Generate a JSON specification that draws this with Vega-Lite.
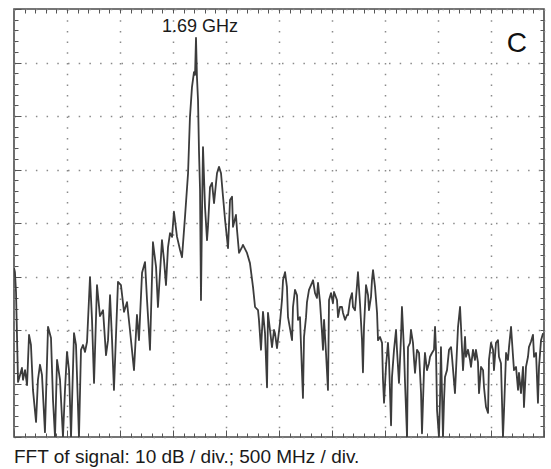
{
  "$schema": "https://vega.github.io/schema/vega-lite/v6.json",
  "width": 530,
  "height": 428,
  "autosize": {"type": "none"},
  "padding": {"left": 14, "top": 9, "right": 7, "bottom": 32},
  "background": "white",
  "config": {
    "view": {"stroke": "#4a4a4a", "strokeWidth": 1.6},
    "font": "Liberation Sans"
  },
  "title": {
    "text": "FFT of signal: 10 dB / div.; 500 MHz / div.",
    "orient": "bottom",
    "anchor": "start",
    "frame": "group",
    "offset": 10,
    "fontSize": 19,
    "fontWeight": "normal",
    "font": "Liberation Sans",
    "color": "#1a1a1a"
  },
  "datasets": {
    "spectrum": [
      {"f": 0, "db": -48.4}, {"f": 9, "db": -49.2}, {"f": 19, "db": -52.9}, {"f": 38, "db": -69.7},
      {"f": 57, "db": -68.4}, {"f": 75, "db": -67.1}, {"f": 85, "db": -69.3}, {"f": 104, "db": -67.5},
      {"f": 123, "db": -70.3}, {"f": 142, "db": -60.9}, {"f": 160, "db": -62.8}, {"f": 179, "db": -71.2},
      {"f": 208, "db": -77.2}, {"f": 226, "db": -69.3}, {"f": 245, "db": -66.5}, {"f": 264, "db": -68.4},
      {"f": 292, "db": -79.1}, {"f": 321, "db": -59.4}, {"f": 349, "db": -61.5}, {"f": 368, "db": -73.1},
      {"f": 387, "db": -80}, {"f": 406, "db": -65.6}, {"f": 434, "db": -69.3}, {"f": 462, "db": -80},
      {"f": 481, "db": -71.2}, {"f": 500, "db": -64.1}, {"f": 519, "db": -67.5}, {"f": 538, "db": -80},
      {"f": 566, "db": -60.6}, {"f": 585, "db": -62.8}, {"f": 613, "db": -80}, {"f": 632, "db": -63.7},
      {"f": 651, "db": -62.8}, {"f": 670, "db": -64.1}, {"f": 689, "db": -62.2}, {"f": 717, "db": -50.1},
      {"f": 736, "db": -58.1}, {"f": 755, "db": -69.9}, {"f": 783, "db": -51.6}, {"f": 811, "db": -57.4},
      {"f": 840, "db": -56.3}, {"f": 868, "db": -64.7}, {"f": 887, "db": -61.9}, {"f": 906, "db": -53.5},
      {"f": 925, "db": -61.9}, {"f": 943, "db": -71.2}, {"f": 981, "db": -51.0}, {"f": 1009, "db": -51.6},
      {"f": 1038, "db": -56.6}, {"f": 1066, "db": -54.8}, {"f": 1094, "db": -60.0}, {"f": 1132, "db": -67.5},
      {"f": 1160, "db": -57.2}, {"f": 1179, "db": -61.9}, {"f": 1208, "db": -49.3}, {"f": 1236, "db": -47.3},
      {"f": 1255, "db": -54.4}, {"f": 1283, "db": -63.7}, {"f": 1311, "db": -43.6}, {"f": 1340, "db": -48.2},
      {"f": 1358, "db": -55.7}, {"f": 1396, "db": -43.2}, {"f": 1415, "db": -46.9}, {"f": 1434, "db": -51.6},
      {"f": 1453, "db": -44.5}, {"f": 1472, "db": -41.9}, {"f": 1491, "db": -42.6}, {"f": 1509, "db": -37.9},
      {"f": 1538, "db": -42.6}, {"f": 1566, "db": -45.0}, {"f": 1585, "db": -46.4}, {"f": 1613, "db": -38.9},
      {"f": 1642, "db": -30.7}, {"f": 1660, "db": -20.2}, {"f": 1679, "db": -14.6}, {"f": 1698, "db": -11.8},
      {"f": 1708, "db": -12.3}, {"f": 1717, "db": -5.4}, {"f": 1726, "db": -12.7}, {"f": 1736, "db": -17.0},
      {"f": 1745, "db": -26.4}, {"f": 1755, "db": -33.8}, {"f": 1764, "db": -54.4}, {"f": 1774, "db": -37.6},
      {"f": 1783, "db": -25.8}, {"f": 1802, "db": -37.0}, {"f": 1821, "db": -43.2}, {"f": 1830, "db": -40.7},
      {"f": 1849, "db": -33.3}, {"f": 1868, "db": -32.5}, {"f": 1887, "db": -36.3}, {"f": 1915, "db": -30.7},
      {"f": 1934, "db": -29.5}, {"f": 1953, "db": -30.7}, {"f": 1972, "db": -35.1}, {"f": 1991, "db": -39.4},
      {"f": 2019, "db": -44.7}, {"f": 2038, "db": -35.7}, {"f": 2057, "db": -35.1}, {"f": 2066, "db": -40.7},
      {"f": 2094, "db": -38.5}, {"f": 2104, "db": -41.3}, {"f": 2123, "db": -45.6}, {"f": 2151, "db": -44.5},
      {"f": 2160, "db": -44.1}, {"f": 2198, "db": -45.6}, {"f": 2226, "db": -47.5}, {"f": 2255, "db": -52.0},
      {"f": 2274, "db": -55.7}, {"f": 2302, "db": -56.3}, {"f": 2311, "db": -58.1}, {"f": 2330, "db": -63.7},
      {"f": 2349, "db": -56.6}, {"f": 2368, "db": -60.6}, {"f": 2387, "db": -70.7}, {"f": 2396, "db": -56.8},
      {"f": 2415, "db": -60.0}, {"f": 2434, "db": -63.2}, {"f": 2453, "db": -60.0}, {"f": 2462, "db": -60.6},
      {"f": 2481, "db": -63.4}, {"f": 2509, "db": -58.7}, {"f": 2528, "db": -54.4}, {"f": 2538, "db": -50.7},
      {"f": 2557, "db": -49.2}, {"f": 2575, "db": -52.0}, {"f": 2585, "db": -57.6}, {"f": 2623, "db": -61.9},
      {"f": 2632, "db": -55.7}, {"f": 2651, "db": -52.5}, {"f": 2670, "db": -53.5}, {"f": 2679, "db": -58.1},
      {"f": 2698, "db": -57.6}, {"f": 2717, "db": -68.0}, {"f": 2726, "db": -72.7}, {"f": 2736, "db": -61.3},
      {"f": 2755, "db": -57.6}, {"f": 2764, "db": -54.8}, {"f": 2783, "db": -52.5}, {"f": 2811, "db": -51.2},
      {"f": 2821, "db": -50.7}, {"f": 2840, "db": -53.1}, {"f": 2858, "db": -54.0}, {"f": 2868, "db": -51.2},
      {"f": 2887, "db": -54.8}, {"f": 2906, "db": -60.6}, {"f": 2915, "db": -63.7}, {"f": 2925, "db": -58.1},
      {"f": 2943, "db": -64.1}, {"f": 2962, "db": -71.2}, {"f": 2972, "db": -54.4}, {"f": 2991, "db": -53.1},
      {"f": 3009, "db": -55.0}, {"f": 3019, "db": -52.9}, {"f": 3047, "db": -54.4}, {"f": 3057, "db": -57.6},
      {"f": 3075, "db": -55.7}, {"f": 3094, "db": -55.7}, {"f": 3104, "db": -56.8}, {"f": 3123, "db": -58.1},
      {"f": 3142, "db": -57.2}, {"f": 3151, "db": -57.2}, {"f": 3170, "db": -54.4}, {"f": 3189, "db": -53.1},
      {"f": 3198, "db": -55.7}, {"f": 3217, "db": -56.3}, {"f": 3236, "db": -51.6}, {"f": 3245, "db": -49.2},
      {"f": 3264, "db": -55.0}, {"f": 3283, "db": -61.9}, {"f": 3292, "db": -67.9}, {"f": 3302, "db": -59.4},
      {"f": 3321, "db": -51.6}, {"f": 3340, "db": -53.5}, {"f": 3349, "db": -56.3}, {"f": 3368, "db": -53.8},
      {"f": 3377, "db": -50.7}, {"f": 3387, "db": -48.8}, {"f": 3406, "db": -52.0}, {"f": 3425, "db": -56.8},
      {"f": 3434, "db": -61.9}, {"f": 3453, "db": -61.3}, {"f": 3472, "db": -62.4}, {"f": 3481, "db": -69.3},
      {"f": 3491, "db": -73.6}, {"f": 3509, "db": -66.9}, {"f": 3528, "db": -62.4}, {"f": 3538, "db": -65.6},
      {"f": 3557, "db": -77.8}, {"f": 3566, "db": -68.8}, {"f": 3585, "db": -63.7}, {"f": 3604, "db": -60.0},
      {"f": 3613, "db": -63.7}, {"f": 3632, "db": -69.9}, {"f": 3651, "db": -61.3}, {"f": 3660, "db": -55.7},
      {"f": 3679, "db": -63.7}, {"f": 3689, "db": -69.9}, {"f": 3708, "db": -80}, {"f": 3717, "db": -63.2},
      {"f": 3736, "db": -62.4}, {"f": 3745, "db": -60.0}, {"f": 3764, "db": -62.4}, {"f": 3774, "db": -65.6},
      {"f": 3783, "db": -68.0}, {"f": 3802, "db": -63.7}, {"f": 3821, "db": -64.3}, {"f": 3840, "db": -71.8},
      {"f": 3849, "db": -79.3}, {"f": 3868, "db": -67.5}, {"f": 3877, "db": -64.3}, {"f": 3896, "db": -67.5},
      {"f": 3915, "db": -66.2}, {"f": 3925, "db": -65.0}, {"f": 3943, "db": -64.3}, {"f": 3962, "db": -63.7},
      {"f": 3972, "db": -59.4}, {"f": 3981, "db": -63.7}, {"f": 3991, "db": -75.0}, {"f": 4009, "db": -80},
      {"f": 4019, "db": -73.1}, {"f": 4028, "db": -63.2}, {"f": 4047, "db": -80}, {"f": 4057, "db": -73.1},
      {"f": 4066, "db": -68.8}, {"f": 4085, "db": -67.5}, {"f": 4104, "db": -63.7}, {"f": 4123, "db": -63.2},
      {"f": 4132, "db": -65.0}, {"f": 4160, "db": -71.8}, {"f": 4170, "db": -67.5}, {"f": 4189, "db": -59.4},
      {"f": 4208, "db": -55.7}, {"f": 4217, "db": -59.4}, {"f": 4236, "db": -67.5}, {"f": 4255, "db": -61.3},
      {"f": 4264, "db": -65.0}, {"f": 4283, "db": -63.7}, {"f": 4302, "db": -65.6}, {"f": 4311, "db": -66.9},
      {"f": 4330, "db": -63.7}, {"f": 4349, "db": -65.6}, {"f": 4358, "db": -63.7}, {"f": 4377, "db": -66.0},
      {"f": 4387, "db": -71.8}, {"f": 4406, "db": -66.9}, {"f": 4425, "db": -67.5}, {"f": 4434, "db": -70.7},
      {"f": 4453, "db": -74.4}, {"f": 4472, "db": -75.5}, {"f": 4481, "db": -65.6}, {"f": 4500, "db": -62.4},
      {"f": 4519, "db": -63.7}, {"f": 4528, "db": -67.5}, {"f": 4547, "db": -62.4}, {"f": 4566, "db": -61.9},
      {"f": 4575, "db": -65.0}, {"f": 4594, "db": -66.2}, {"f": 4613, "db": -80}, {"f": 4623, "db": -75.0},
      {"f": 4642, "db": -64.3}, {"f": 4660, "db": -65.6}, {"f": 4670, "db": -63.2}, {"f": 4689, "db": -59.4},
      {"f": 4708, "db": -65.0}, {"f": 4717, "db": -67.5}, {"f": 4736, "db": -66.9}, {"f": 4755, "db": -71.2},
      {"f": 4764, "db": -68.0}, {"f": 4783, "db": -71.8}, {"f": 4802, "db": -66.9}, {"f": 4811, "db": -74.4},
      {"f": 4830, "db": -66.9}, {"f": 4849, "db": -65.0}, {"f": 4858, "db": -63.2}, {"f": 4877, "db": -62.2},
      {"f": 4896, "db": -60.9}, {"f": 4906, "db": -65.0}, {"f": 4925, "db": -64.3}, {"f": 4943, "db": -73.6},
      {"f": 4953, "db": -66.9}, {"f": 4972, "db": -61.9}, {"f": 4991, "db": -60.6}
    ],
    "peakLabel": [{"f": 1755, "db": -4.3, "label": "1.69 GHz"}],
    "panelLabel": [{"f": 4745, "db": -8.0, "label": "C"}]
  },
  "resolve": {"axis": {"x": "independent", "y": "independent"}},
  "layer": [
    {
      "data": {"name": "spectrum"},
      "mark": {"type": "line", "stroke": "#3c3c3c", "strokeWidth": 1.8, "strokeJoin": "round", "clip": true, "interpolate": "linear"},
      "encoding": {
        "x": {
          "field": "f", "type": "quantitative",
          "scale": {"domain": [0, 5000], "nice": false, "zero": false},
          "axis": {
            "orient": "bottom", "title": null, "labels": false, "domain": false,
            "values": [0, 500, 1000, 1500, 2000, 2500, 3000, 3500, 4000, 4500, 5000],
            "grid": true, "gridColor": "#8a8a8a", "gridWidth": 1.5, "gridDash": [1.5, 9.2],
            "ticks": true, "tickSize": -7, "tickColor": "#555", "tickWidth": 1
          }
        },
        "y": {
          "field": "db", "type": "quantitative",
          "scale": {"domain": [-80, 0], "nice": false, "zero": false},
          "axis": {
            "orient": "left", "title": null, "labels": false, "domain": false,
            "values": [-80, -70, -60, -50, -40, -30, -20, -10, 0],
            "grid": true, "gridColor": "#8a8a8a", "gridWidth": 1.5, "gridDash": [1.5, 9.2],
            "ticks": true, "tickSize": -7, "tickColor": "#555", "tickWidth": 1
          }
        }
      }
    },
    {
      "data": {"name": "peakLabel"},
      "mark": {"type": "text", "fontSize": 18, "font": "Liberation Sans", "color": "#1a1a1a", "align": "center", "baseline": "alphabetic"},
      "encoding": {
        "x": {
          "field": "f", "type": "quantitative",
          "axis": {
            "orient": "top", "title": null, "labels": false, "domain": false, "grid": false,
            "values": [100, 200, 300, 400, 600, 700, 800, 900, 1100, 1200, 1300, 1400, 1600, 1700, 1800, 1900, 2100, 2200, 2300, 2400, 2600, 2700, 2800, 2900, 3100, 3200, 3300, 3400, 3600, 3700, 3800, 3900, 4100, 4200, 4300, 4400, 4600, 4700, 4800, 4900, 500, 1000, 1500, 2000, 2500, 3000, 3500, 4000, 4500],
            "tickSize": -4, "tickColor": "#555", "tickWidth": 1
          }
        },
        "y": {
          "field": "db", "type": "quantitative",
          "axis": {
            "orient": "right", "title": null, "labels": false, "domain": false, "grid": false,
            "values": [-78, -76, -74, -72, -70, -68, -66, -64, -62, -60, -58, -56, -54, -52, -50, -48, -46, -44, -42, -40, -38, -36, -34, -32, -30, -28, -26, -24, -22, -20, -18, -16, -14, -12, -10, -8, -6, -4, -2],
            "tickSize": -4, "tickColor": "#555", "tickWidth": 1
          }
        },
        "text": {"field": "label"}
      }
    },
    {
      "data": {"name": "panelLabel"},
      "mark": {"type": "text", "fontSize": 28, "font": "Liberation Sans", "color": "#111", "align": "center", "baseline": "alphabetic"},
      "encoding": {
        "x": {
          "field": "f", "type": "quantitative",
          "axis": {
            "orient": "bottom", "title": null, "labels": false, "domain": false, "grid": false,
            "values": [100, 200, 300, 400, 600, 700, 800, 900, 1100, 1200, 1300, 1400, 1600, 1700, 1800, 1900, 2100, 2200, 2300, 2400, 2600, 2700, 2800, 2900, 3100, 3200, 3300, 3400, 3600, 3700, 3800, 3900, 4100, 4200, 4300, 4400, 4600, 4700, 4800, 4900],
            "tickSize": -4, "tickColor": "#555", "tickWidth": 1
          }
        },
        "y": {
          "field": "db", "type": "quantitative",
          "axis": {
            "orient": "left", "title": null, "labels": false, "domain": false, "grid": false,
            "values": [-78, -76, -74, -72, -68, -66, -64, -62, -58, -56, -54, -52, -48, -46, -44, -42, -38, -36, -34, -32, -28, -26, -24, -22, -18, -16, -14, -12, -8, -6, -4, -2],
            "tickSize": -4, "tickColor": "#555", "tickWidth": 1
          }
        },
        "text": {"field": "label"}
      }
    }
  ]
}
